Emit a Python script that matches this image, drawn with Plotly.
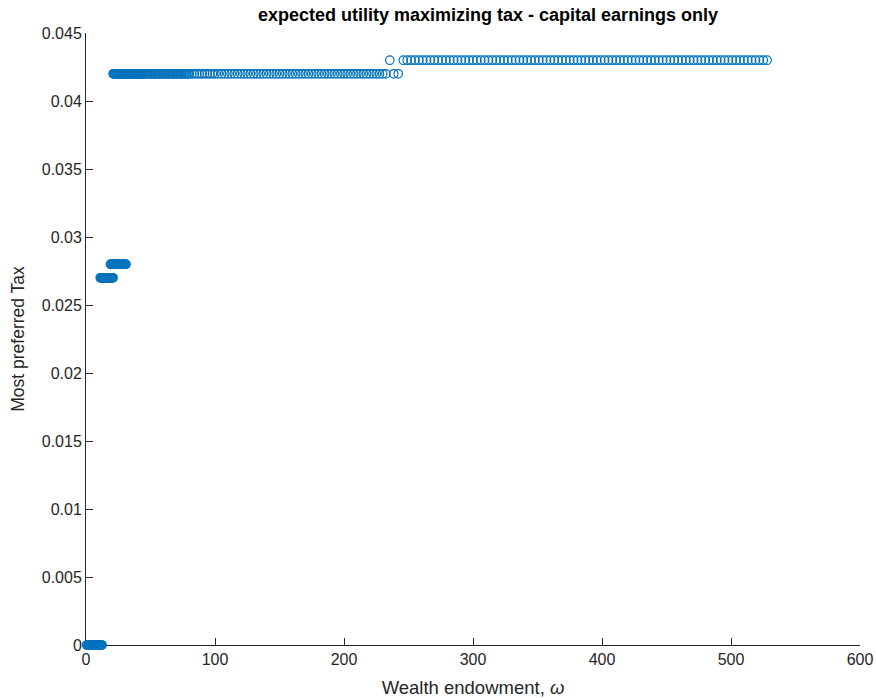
import plotly.graph_objects as go

# Most preferred tax by wealth endowment, grouped by the chosen tax level
tax_0_x = [0.5, 1, 1.5, 2, 2.5, 3, 3.5, 4, 4.5, 5, 5.5, 6, 6.5, 7, 7.5, 8, 8.5, 9,
           9.5, 10, 10.5, 11, 11.5, 12, 12.5]
tax_0_y = [0.0] * len(tax_0_x)

tax_027_x = [11, 11.5, 12, 12.5, 13, 13.5, 14, 14.5, 15, 15.5, 16, 16.5, 17, 17.5,
             18, 18.5, 19, 19.5, 20, 20.5, 21]
tax_027_y = [0.027] * len(tax_027_x)

tax_028_x = [19, 19.5, 20, 20.5, 21, 21.5, 22, 22.5, 23, 23.5, 24, 24.5, 25, 25.5,
             26, 26.5, 27, 27.5, 28, 28.5, 29, 29.5, 30, 30.5, 31]
tax_028_y = [0.028] * len(tax_028_x)

tax_042_x = [21, 21.5, 22, 22.5, 23, 23.5, 24, 24.5, 25, 25.5, 26, 26.5, 27, 27.5,
             28, 28.5, 29, 29.5, 30, 30.5, 31, 31.5, 32, 32.5, 33, 33.5, 34, 34.5,
             35, 35.5, 36, 36.5, 37, 37.5, 38, 38.5, 39, 39.5, 40, 40.5, 41, 41.5,
             42, 42.5, 43, 43.5, 44,
             45, 46, 47, 48, 49, 50, 51, 52, 53, 54, 55, 56, 57, 58, 59, 60, 61, 62,
             63, 64, 65, 66, 67, 68, 69, 70, 71, 72, 73, 74, 75, 76, 77, 78, 79, 80,
             82, 84, 86, 88, 90, 92, 94, 96, 98, 100,
             102.5, 105, 107.5, 110, 112.5, 115, 117.5, 120, 122.5, 125, 127.5, 130,
             132.5, 135, 137.5, 140, 142.5, 145, 147.5, 150, 152.5, 155, 157.5, 160,
             162.5, 165, 167.5, 170, 172.5, 175, 177.5, 180, 182.5, 185, 187.5, 190,
             192.5, 195, 197.5, 200, 202.5, 205, 207.5, 210, 212.5, 215, 217.5, 220,
             222.5, 225, 227.5, 230, 232.5,
             238.5, 242]
tax_042_y = [0.042] * len(tax_042_x)

tax_043_x = [235.5,
             246, 249, 252, 255, 258, 261, 264, 267, 270, 273, 276, 279, 282, 285,
             288, 291, 294, 297, 300, 303, 306, 309, 312, 315, 318, 321, 324, 327,
             330, 333, 336, 339, 342, 345, 348, 351, 354, 357, 360, 363, 366, 369,
             372, 375, 378, 381, 384, 387, 390, 393, 396, 399, 402, 405, 408, 411,
             414, 417, 420, 423, 426, 429, 432, 435, 438, 441, 444, 447, 450, 453,
             456, 459, 462, 465, 468, 471, 474, 477, 480, 483, 486, 489, 492, 495,
             498, 501, 504, 507, 510, 513, 516, 519, 522, 525, 528]
tax_043_y = [0.043] * len(tax_043_x)

x_ticks = [0, 100, 200, 300, 400, 500, 600]
y_ticks = [0, 0.005, 0.01, 0.015, 0.02, 0.025, 0.03, 0.035, 0.04, 0.045]
y_tick_text = ["0", "0.005", "0.01", "0.015", "0.02", "0.025", "0.03", "0.035", "0.04", "0.045"]

x_all = tax_0_x + tax_027_x + tax_028_x + tax_042_x + tax_043_x
y_all = tax_0_y + tax_027_y + tax_028_y + tax_042_y + tax_043_y

BLUE = "#0072BD"
AXIS = "#262626"
FONT = "Liberation Sans, Arial, Helvetica, sans-serif"

fig = go.Figure()
fig.add_trace(go.Scatter(
    x=x_all, y=y_all, mode="markers", cliponaxis=False,
    marker=dict(symbol="circle-open", size=8.5, color=BLUE, line=dict(width=1.2, color=BLUE)),
    showlegend=False,
))

axis_common = dict(
    showline=True, linecolor=AXIS, linewidth=1, mirror=False,
    ticks="inside", ticklen=7, tickwidth=1, tickcolor=AXIS,
    showgrid=False, zeroline=False, layer="below traces", automargin=False,
    tickfont=dict(family=FONT, size=16, color=AXIS),
)

fig.update_xaxes(range=[0, 600], tickvals=x_ticks, **axis_common,
                 title=dict(text="Wealth endowment, <i>ω</i>",
                            font=dict(family=FONT, size=18.5, color=AXIS), standoff=13))
fig.update_yaxes(range=[0, 0.045], tickvals=y_ticks, ticktext=y_tick_text, **axis_common,
                 title=dict(text="Most preferred Tax",
                            font=dict(family=FONT, size=17.5, color=AXIS), standoff=12))

fig.update_layout(
    width=876, height=698,
    margin=dict(l=86, r=16, t=33, b=53),
    plot_bgcolor="white", paper_bgcolor="white",
    font=dict(family=FONT, color=AXIS),
)

fig.add_annotation(
    text="<b>expected utility maximizing tax - capital earnings only</b>",
    xref="paper", yref="paper", x=(488 - 86) / 774, y=1, yshift=18,
    xanchor="center", yanchor="middle", showarrow=False,
    font=dict(family=FONT, size=18, color="#000000"),
)

fig.write_html("out.html")
